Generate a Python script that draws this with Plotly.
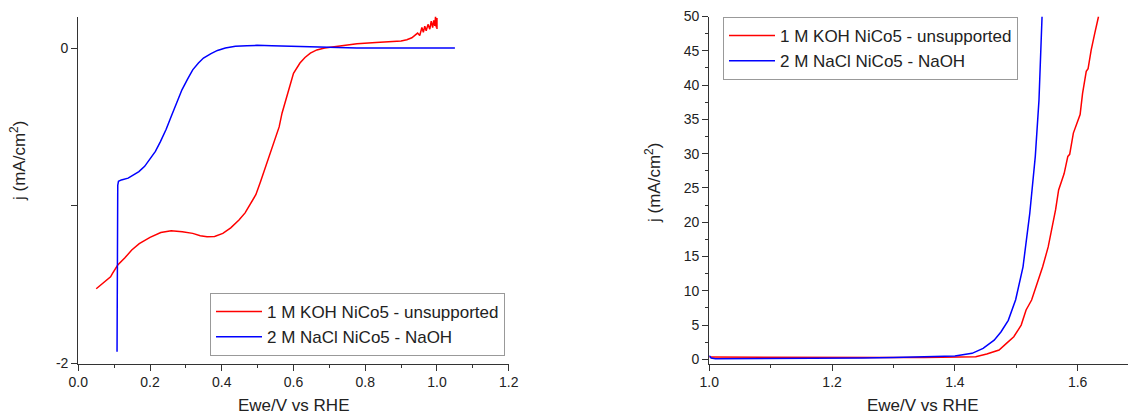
import plotly.graph_objects as go

# ---------------- Data ----------------
# Left panel (ORR-like LSV)
left_red_x = [0.05, 0.07, 0.09, 0.095, 0.11, 0.13, 0.149, 0.17, 0.2, 0.23, 0.259, 0.29, 0.319, 0.34,
              0.359, 0.38, 0.403, 0.425, 0.448, 0.465, 0.478, 0.495, 0.508, 0.52, 0.528, 0.54, 0.548,
              0.56, 0.568, 0.578, 0.588, 0.60, 0.618, 0.632, 0.647, 0.665, 0.687, 0.73, 0.777, 0.83,
              0.876, 0.90, 0.916, 0.93, 0.946, 0.952, 0.958, 0.962, 0.966, 0.97, 0.975, 0.98, 0.984,
              0.988, 0.991, 0.994, 0.996, 0.998, 1.0, 1.0]
left_red_y = [-1.526, -1.49, -1.45, -1.43, -1.376, -1.33, -1.28, -1.24, -1.2, -1.17, -1.158, -1.165,
              -1.175, -1.19, -1.196, -1.195, -1.175, -1.14, -1.09, -1.045, -0.995, -0.93, -0.847,
              -0.77, -0.709, -0.64, -0.582, -0.5, -0.413, -0.33, -0.243, -0.16, -0.095, -0.06, -0.032,
              -0.012, 0.0, 0.012, 0.027, 0.035, 0.04, 0.045, 0.053, 0.065, 0.095, 0.08, 0.13, 0.1,
              0.138, 0.11, 0.15, 0.12, 0.17, 0.13, 0.175, 0.14, 0.2, 0.13, 0.19, 0.12]

left_blue_x = [0.108, 0.109, 0.11, 0.112, 0.12, 0.139, 0.155, 0.169, 0.185, 0.199, 0.215, 0.229, 0.245,
               0.259, 0.275, 0.289, 0.305, 0.319, 0.335, 0.349, 0.37, 0.388, 0.41, 0.438, 0.47, 0.498,
               0.54, 0.578, 0.63, 0.677, 0.73, 0.777, 0.85, 0.92, 0.99, 1.05]
left_blue_y = [-1.926, -1.2, -0.87, -0.845, -0.836, -0.825, -0.805, -0.783, -0.75, -0.709, -0.655,
               -0.593, -0.515, -0.434, -0.345, -0.265, -0.195, -0.138, -0.095, -0.063, -0.035, -0.015,
               0.0, 0.011, 0.015, 0.017, 0.014, 0.011, 0.007, 0.004, 0.002, 0.0, 0.0, -0.002, 0.0, 0.0]

# Right panel (OER LSV)
right_red_x = [1.0, 1.05, 1.1, 1.15, 1.2, 1.25, 1.3, 1.35, 1.4, 1.434, 1.452, 1.472, 1.484, 1.496,
               1.508, 1.516, 1.525, 1.534, 1.543, 1.552, 1.558, 1.564, 1.569, 1.578, 1.584, 1.587,
               1.593, 1.602, 1.604, 1.608, 1.614, 1.617, 1.622, 1.628, 1.634]
right_red_y = [0.35, 0.32, 0.3, 0.28, 0.27, 0.26, 0.26, 0.27, 0.3, 0.39, 0.78, 1.36, 2.33, 3.3,
               5.0, 7.2, 8.66, 11.1, 13.5, 16.4, 18.9, 21.8, 24.7, 27.1, 29.6, 29.9, 33.0, 35.4,
               35.7, 38.8, 42.0, 42.4, 45.1, 47.6, 50.0]

right_blue_x = [1.0, 1.003, 1.01, 1.05, 1.1, 1.15, 1.2, 1.25, 1.3, 1.35, 1.4, 1.428, 1.446, 1.464,
                1.475, 1.487, 1.499, 1.511, 1.522, 1.531, 1.537, 1.542]
right_blue_y = [0.55, 0.2, 0.1, 0.1, 0.11, 0.13, 0.16, 0.2, 0.26, 0.35, 0.49, 0.88, 1.6, 2.8, 4.0,
                5.7, 8.7, 13.5, 21.3, 29.6, 37.8, 50.0]

series_names = ["1 M KOH NiCo5 - unsupported", "2 M NaCl NiCo5 - NaOH"]
colors = ["#ff0000", "#0000ff"]

left_y_ticks = [-2, 0]
left_y_ticktext = ["-2", "0"]

x_title = "Ewe/V vs RHE"
y_title = "j (mA/cm<sup>2</sup>)"

# ---------------- Figure ----------------
W, H = 1128, 415
FONT = "Liberation Sans, Arial, sans-serif"
TXT = "#222222"
AX = "#333333"

fig = go.Figure()

fig.add_trace(go.Scatter(x=left_red_x, y=left_red_y, mode="lines", name=series_names[0],
                         line=dict(color=colors[0], width=1.5), xaxis="x", yaxis="y", legend="legend"))
fig.add_trace(go.Scatter(x=left_blue_x, y=left_blue_y, mode="lines", name=series_names[1],
                         line=dict(color=colors[1], width=1.5), xaxis="x", yaxis="y", legend="legend"))
fig.add_trace(go.Scatter(x=right_red_x, y=right_red_y, mode="lines", name=series_names[0],
                         line=dict(color=colors[0], width=1.5), xaxis="x2", yaxis="y2", legend="legend2"))
fig.add_trace(go.Scatter(x=right_blue_x, y=right_blue_y, mode="lines", name=series_names[1],
                         line=dict(color=colors[1], width=1.5), xaxis="x2", yaxis="y2", legend="legend2"))

ydom = [(H - 363.5) / H, (H - 16.5) / H]

common_axis = dict(showgrid=False, zeroline=False, showline=True, linecolor=AX, linewidth=1.3,
                   ticks="outside", ticklen=6, tickwidth=1.3, tickcolor=AX, automargin=False,
                   tickfont=dict(family=FONT, size=14, color=TXT))

fig.update_layout(
    width=W, height=H,
    margin=dict(l=0, r=0, t=0, b=0, autoexpand=False),
    paper_bgcolor="white", plot_bgcolor="white",
    font=dict(family=FONT, color=TXT),
    xaxis=dict(domain=[78.3 / W, 508.7 / W], range=[0, 1.2], dtick=0.2, tick0=0,
               tickformat=".1f", anchor="y",
               minor=dict(dtick=0.1, ticks="outside", ticklen=3, tickcolor=AX, tickwidth=1.3),
               **common_axis),
    yaxis=dict(domain=ydom, range=[-2, 0.2], tickvals=left_y_ticks, ticktext=left_y_ticktext,
               anchor="x",
               minor=dict(tickvals=[-1], ticks="outside", ticklen=6, tickcolor=AX, tickwidth=1.3),
               **common_axis),
    xaxis2=dict(domain=[709.3 / W, 1.0], range=[1.0, 1.682], dtick=0.2, tick0=1.0,
                tickformat=".1f", anchor="y2",
                minor=dict(dtick=0.1, ticks="outside", ticklen=3, tickcolor=AX, tickwidth=1.3),
                **common_axis),
    yaxis2=dict(domain=ydom, range=[-0.6, 50], dtick=5, tick0=0, anchor="x2",
                minor=dict(dtick=2.5, ticks="outside", ticklen=3, tickcolor=AX, tickwidth=1.3),
                **common_axis),
    legend=dict(x=210 / W, y=(H - 293) / H, xanchor="left", yanchor="top",
                bgcolor="white", bordercolor="#999999", borderwidth=1, itemwidth=46,
                font=dict(family=FONT, size=17, color=TXT), tracegroupgap=0),
    legend2=dict(x=723 / W, y=(H - 17) / H, xanchor="left", yanchor="top",
                 bgcolor="white", bordercolor="#999999", borderwidth=1, itemwidth=46,
                 font=dict(family=FONT, size=17, color=TXT), tracegroupgap=0),
    showlegend=True,
)

ann_font = dict(family=FONT, size=17, color=TXT)
fig.add_annotation(text=x_title, x=293.5 / W, y=(H - 405) / H, xref="paper", yref="paper",
                   showarrow=False, font=ann_font, xanchor="center", yanchor="middle")
fig.add_annotation(text=x_title, x=922 / W, y=(H - 405) / H, xref="paper", yref="paper",
                   showarrow=False, font=ann_font, xanchor="center", yanchor="middle")
fig.add_annotation(text=y_title, x=18 / W, y=(H - 161) / H, xref="paper", yref="paper",
                   showarrow=False, font=ann_font, textangle=-90, xanchor="center", yanchor="middle")
fig.add_annotation(text=y_title, x=653 / W, y=(H - 183) / H, xref="paper", yref="paper",
                   showarrow=False, font=ann_font, textangle=-90, xanchor="center", yanchor="middle")

fig.write_html("out.html", config={"displayModeBar": False},
               post_script="document.body.style.margin='0px';")
